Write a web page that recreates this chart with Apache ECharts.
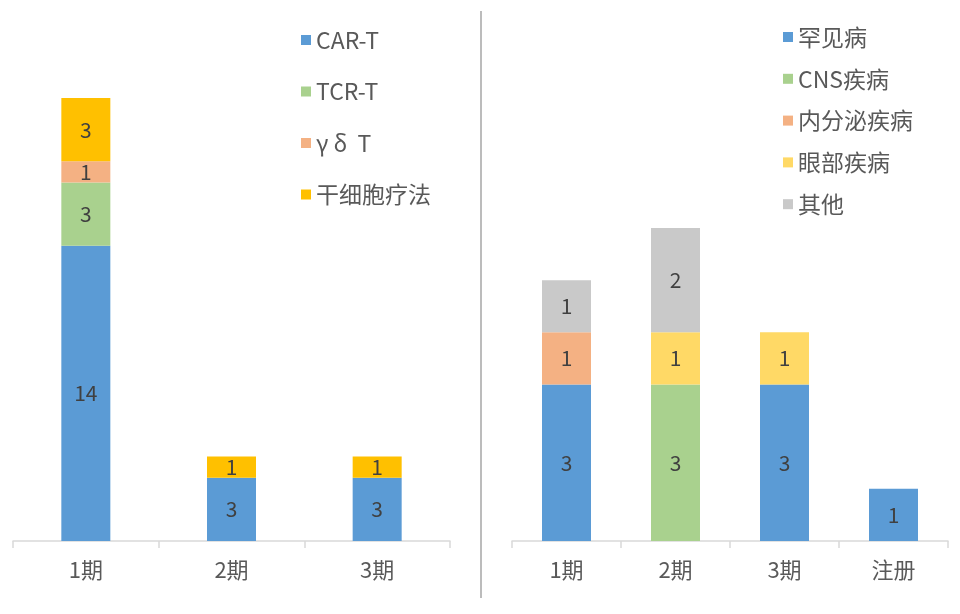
<!DOCTYPE html>
<html><head><meta charset="utf-8">
<script src="https://cdn.jsdelivr.net/npm/echarts@6/dist/echarts.min.js"></script>
<style>html,body{margin:0;padding:0;background:#fff}#c{width:960px;height:614px}</style>
</head><body><div id="c"></div>
<script>
const leftCategories = ['1期', '2期', '3期'];
const leftSeriesNames = ['CAR-T', 'TCR-T', 'γ δ  T', '干细胞疗法'];
const carT = [14, 3, 3];
const tcrT = [3, 0, 0];
const gdT = [1, 0, 0];
const stemCell = [3, 1, 1];

const rightCategories = ['1期', '2期', '3期', '注册'];
const rightSeriesNames = ['罕见病', 'CNS疾病', '内分泌疾病', '眼部疾病', '其他'];
const rare = [3, 0, 3, 1];
const cns = [0, 3, 0, 0];
const endocrine = [1, 0, 0, 0];
const eye = [0, 1, 1, 0];
const other = [1, 2, 0, 0];

const leftColors = ['#5B9BD5', '#A9D18E', '#F4B183', '#FFC000'];
const rightColors = ['#5B9BD5', '#A9D18E', '#F4B183', '#FFD966', '#C9C9C9'];
const FONT = '"Noto Sans CJK SC", "Noto Sans", sans-serif';

function mk(name, data, color, idx, stack) {
  return {
    name, type: 'bar', stack, data: data.map(v => v === 0 ? '-' : v),
    xAxisIndex: idx, yAxisIndex: idx, barWidth: 49,
    itemStyle: { color },
    label: { show: true, position: 'inside', color: '#404040', fontSize: 21, fontFamily: FONT,
      formatter: p => p.value ? String(p.value) : '' },
    emphasis: { disabled: true }
  };
}
const xAx = (cats, gi) => ({
  type: 'category', gridIndex: gi, data: cats,
  axisLine: { lineStyle: { color: '#D9D9D9', width: 1.5 } },
  axisTick: { show: true, length: 7, lineStyle: { color: '#D9D9D9', width: 1.5 } },
  axisLabel: { color: '#595959', fontSize: 22, fontFamily: FONT, margin: 18 }
});
const yAx = (max, gi) => ({
  type: 'value', gridIndex: gi, min: 0, max, show: false, splitLine: { show: false }
});

const option = {
  animation: false,
  backgroundColor: '#fff',
  grid: [
    { left: 13, right: 510, top: 98, bottom: 73 },
    { left: 512, right: 12, top: 228, bottom: 73 }
  ],
  xAxis: [xAx(leftCategories, 0), xAx(rightCategories, 1)],
  yAxis: [yAx(21, 0), yAx(6, 1)],
  legend: [
    { data: leftSeriesNames, orient: 'vertical', left: 296, top: 23, itemWidth: 10, itemHeight: 10,
      itemGap: 27.5, icon: 'rect', textStyle: { color: '#595959', fontSize: 23, lineHeight: 24, fontFamily: FONT } },
    { data: rightSeriesNames, orient: 'vertical', left: 778, top: 20, itemWidth: 10, itemHeight: 10,
      itemGap: 17.8, icon: 'rect', textStyle: { color: '#595959', fontSize: 23, lineHeight: 24, fontFamily: FONT } }
  ],
  graphic: [{ type: 'line', shape: { x1: 481, y1: 11, x2: 481, y2: 598 },
    style: { stroke: '#A6A6A6', lineWidth: 1.5 } }],
  series: [
    mk(leftSeriesNames[0], carT, leftColors[0], 0, 'L'),
    mk(leftSeriesNames[1], tcrT, leftColors[1], 0, 'L'),
    mk(leftSeriesNames[2], gdT, leftColors[2], 0, 'L'),
    mk(leftSeriesNames[3], stemCell, leftColors[3], 0, 'L'),
    mk(rightSeriesNames[0], rare, rightColors[0], 1, 'R'),
    mk(rightSeriesNames[1], cns, rightColors[1], 1, 'R'),
    mk(rightSeriesNames[2], endocrine, rightColors[2], 1, 'R'),
    mk(rightSeriesNames[3], eye, rightColors[3], 1, 'R'),
    mk(rightSeriesNames[4], other, rightColors[4], 1, 'R')
  ]
};
echarts.init(document.getElementById('c')).setOption(option);
</script></body></html>
